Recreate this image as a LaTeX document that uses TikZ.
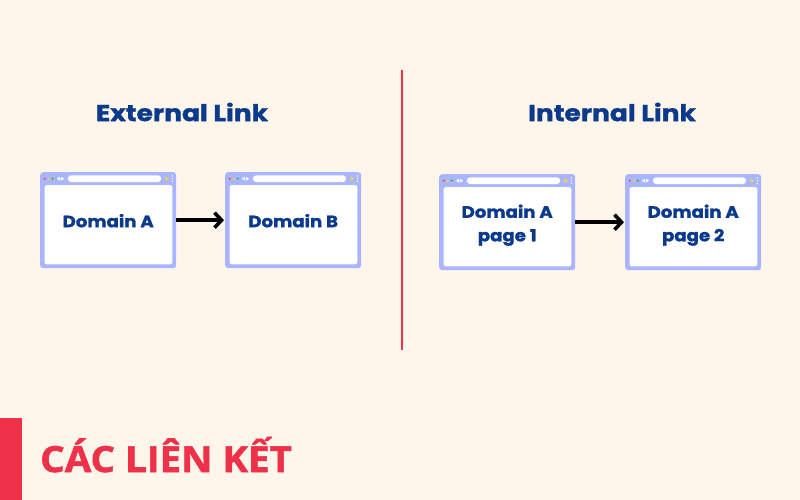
\documentclass[tikz,border=0pt]{standalone}
\usepackage{fontspec}
\newfontfamily\popb{Poppins}[BoldFeatures={FakeBold=1.2}]
\newfontfamily\viet{Open Sans}[BoldFeatures={FakeBold=1.5,FakeStretch=1.07}]
\usetikzlibrary{arrows.meta,shapes.geometric}
\definecolor{bg}{HTML}{FEF6EA}
\definecolor{frame}{HTML}{A9B6FF}
\definecolor{navy}{HTML}{0B3A8C}
\definecolor{redc}{HTML}{EE3148}
\definecolor{dred}{HTML}{F2434F}
\definecolor{dyel}{HTML}{F5D33A}
\definecolor{dgrn}{HTML}{22B04B}
\tikzset{
  winframe/.style={fill=frame, draw=none, rounded corners=3pt, minimum width=136pt, minimum height=96pt, anchor=north west, inner sep=0pt},
  winpane/.style={fill=white, rounded corners=2.5pt},
  wintext/.style={text=navy, font=\popb\bfseries\fontsize{16.5}{23.5}\selectfont, align=center, xscale=1.1},
  title/.style={text=navy, font=\popb\bfseries\fontsize{23}{27}\selectfont, xscale=1.15},
  linkarrow/.style={line width=3.6pt, -{Straight Barb[length=7pt,width=15pt,line width=3.6pt]}},
}
\newcommand\browserwin[5]{%
  \node[winframe] (#1) at (#2,#3) {};
  \fill[winpane] ([xshift=4.5pt,yshift=-13pt]#1.north west) rectangle ([xshift=-4pt,yshift=4pt]#1.south east);
  \fill[white, rounded corners=3pt] ([xshift=28pt,yshift=-3.3pt]#1.north west) rectangle ([xshift=121pt,yshift=-10pt]#1.north west);
  \fill[dred] ([xshift=4.7pt,yshift=-6.7pt]#1.north west) circle (1.2pt);
  \fill[dyel] ([xshift=8.7pt,yshift=-6.7pt]#1.north west) circle (1.2pt);
  \fill[dgrn] ([xshift=12.7pt,yshift=-6.7pt]#1.north west) circle (1.2pt);
  \fill[white] ([xshift=17pt,yshift=-6.7pt]#1.north west) -- ([xshift=20pt,yshift=-4.8pt]#1.north west) -- ([xshift=20pt,yshift=-8.6pt]#1.north west) -- cycle;
  \fill[white] ([xshift=24pt,yshift=-6.7pt]#1.north west) -- ([xshift=21pt,yshift=-4.8pt]#1.north west) -- ([xshift=21pt,yshift=-8.6pt]#1.north west) -- cycle;
  \node[star, star points=5, star point ratio=2.3, fill=dyel, inner sep=0pt, minimum size=5pt] (#1s) at ([xshift=126.7pt,yshift=-6.7pt]#1.north west) {};
  \foreach \dy in {4,6.7,9.4} \fill[white] ([xshift=132.3pt,yshift=-\dy pt]#1.north west) circle (0.7pt);
  \node[wintext] (#1t) at ([yshift=#5]#1.center) {#4};
}
\begin{document}
\begin{tikzpicture}[x=1pt,y=-1pt]
\useasboundingbox (0,0) rectangle (800,500);
\fill[bg] (0,0) rectangle (800,500);
\node[title] (ext) at (182,112) {External Link};
\node[title] (int) at (612,112) {Internal Link};
\coordinate (divtop) at (402,70);
\coordinate (divbot) at (402,350);
\draw[redc, line width=2pt] (divtop) -- (divbot);
\browserwin{wa}{40}{172}{Domain A}{-0.5pt}
\browserwin{wb}{225}{172}{Domain B}{-0.5pt}
\browserwin{wc}{439}{174}{Domain A\\page 1}{-3pt}
\browserwin{wd}{625}{174}{Domain A\\page 2}{-3pt}
\draw[linkarrow] (wa.east) -- ([xshift=-1pt]wb.west);
\draw[linkarrow] (wc.east) -- ([xshift=-1pt]wd.west);
\fill[redc] (0,418) rectangle (22,500);
\node[anchor=base west, inner sep=0pt, text=redc, font=\viet\bfseries\fontsize{36}{40}\selectfont] (cap) at (40,472) {CÁC LIÊN KẾT};
\end{tikzpicture}
\end{document}
